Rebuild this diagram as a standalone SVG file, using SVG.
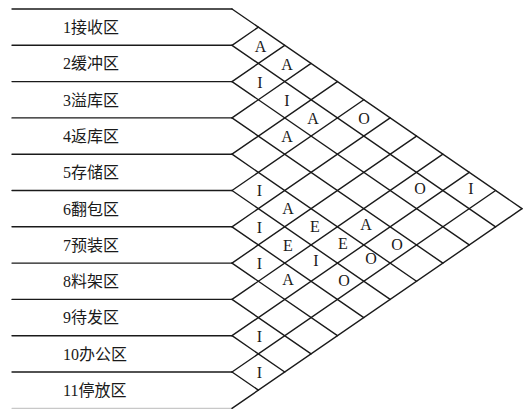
<svg xmlns="http://www.w3.org/2000/svg" width="523" height="410" viewBox="0 0 523 410">
<style>
.ln{stroke:#1a1a1a;stroke-width:1.4;fill:none;stroke-linecap:round}
.faint{stroke:#c8c8c8;stroke-width:1.2}
.lbl{font-family:"Liberation Serif","Noto Sans CJK SC",serif;font-size:16px;fill:#1a1a1a}
.rel{font-family:"Liberation Serif",serif;font-size:16px;fill:#1a1a1a;text-anchor:middle}
</style>
<rect width="523" height="410" fill="#fff"/>
<g id="connectors" class="ln">
<line x1="12" y1="9" x2="232" y2="9"/>
<line x1="12" y1="45.3" x2="232" y2="45.3"/>
<line x1="12" y1="81.6" x2="232" y2="81.6"/>
<line x1="12" y1="117.9" x2="232" y2="117.9"/>
<line x1="12" y1="154.2" x2="232" y2="154.2"/>
<line x1="12" y1="190.5" x2="232" y2="190.5"/>
<line x1="12" y1="226.8" x2="232" y2="226.8"/>
<line x1="12" y1="263.1" x2="232" y2="263.1"/>
<line x1="12" y1="299.4" x2="232" y2="299.4"/>
<line x1="12" y1="335.7" x2="232" y2="335.7"/>
<line x1="12" y1="372" x2="232" y2="372"/>
<line class="faint" x1="12" y1="408.3" x2="232" y2="408.3"/>
<line x1="232" y1="9" x2="522" y2="208.65"/>
<line x1="232" y1="45.3" x2="495.6" y2="226.8"/>
<line x1="232" y1="81.6" x2="469.24" y2="244.95"/>
<line x1="232" y1="117.9" x2="442.88" y2="263.1"/>
<line x1="232" y1="154.2" x2="416.52" y2="281.25"/>
<line x1="232" y1="190.5" x2="390.16" y2="299.4"/>
<line x1="232" y1="226.8" x2="363.8" y2="317.55"/>
<line x1="232" y1="263.1" x2="337.44" y2="335.7"/>
<line x1="232" y1="299.4" x2="311.08" y2="353.85"/>
<line x1="232" y1="335.7" x2="284.72" y2="372"/>
<line x1="232" y1="372" x2="258.36" y2="390.15"/>
<line x1="232" y1="45.3" x2="258.36" y2="27.15"/>
<line x1="232" y1="81.6" x2="284.72" y2="45.3"/>
<line x1="232" y1="117.9" x2="311.08" y2="63.45"/>
<line x1="232" y1="154.2" x2="337.44" y2="81.6"/>
<line x1="232" y1="190.5" x2="363.8" y2="99.75"/>
<line x1="232" y1="226.8" x2="390.16" y2="117.9"/>
<line x1="232" y1="263.1" x2="416.52" y2="136.05"/>
<line x1="232" y1="299.4" x2="442.88" y2="154.2"/>
<line x1="232" y1="335.7" x2="469.24" y2="172.35"/>
<line x1="232" y1="372" x2="495.6" y2="190.5"/>
<line x1="232" y1="408.3" x2="522" y2="208.65"/>
</g>
<g id="row1"><text class="lbl" x="63" y="33">1接收区</text></g>
<g id="row2"><text class="lbl" x="63" y="69.3">2缓冲区</text></g>
<g id="row3"><text class="lbl" x="63" y="105.6">3溢库区</text></g>
<g id="row4"><text class="lbl" x="63" y="141.9">4返库区</text></g>
<g id="row5"><text class="lbl" x="63" y="178.2">5存储区</text></g>
<g id="row6"><text class="lbl" x="63" y="214.5">6翻包区</text></g>
<g id="row7"><text class="lbl" x="63" y="250.8">7预装区</text></g>
<g id="row8"><text class="lbl" x="63" y="287.1">8料架区</text></g>
<g id="row9"><text class="lbl" x="63" y="323.4">9待发区</text></g>
<g id="row10"><text class="lbl" x="63" y="359.7">10办公区</text></g>
<g id="row11"><text class="lbl" x="63" y="396">11停放区</text></g>
<g id="relations">
<text class="rel" x="260.5" y="51.5">A</text>
<text class="rel" x="287" y="69.5">A</text>
<text class="rel" x="260" y="87.5">I</text>
<text class="rel" x="287" y="105.5">I</text>
<text class="rel" x="313" y="123.5">A</text>
<text class="rel" x="364" y="123.5">O</text>
<text class="rel" x="287" y="141.5">A</text>
<text class="rel" x="259.5" y="196">I</text>
<text class="rel" x="420" y="194">O</text>
<text class="rel" x="471" y="194">I</text>
<text class="rel" x="288" y="214">A</text>
<text class="rel" x="315" y="232">E</text>
<text class="rel" x="366" y="230">A</text>
<text class="rel" x="259.5" y="233">I</text>
<text class="rel" x="288" y="250.5">E</text>
<text class="rel" x="343" y="249">E</text>
<text class="rel" x="397" y="249.5">O</text>
<text class="rel" x="259.5" y="269">I</text>
<text class="rel" x="316" y="266">I</text>
<text class="rel" x="371" y="264">O</text>
<text class="rel" x="288" y="285">A</text>
<text class="rel" x="344" y="286">O</text>
<text class="rel" x="259.5" y="342">I</text>
<text class="rel" x="259.5" y="378">I</text>
</g>
</svg>
